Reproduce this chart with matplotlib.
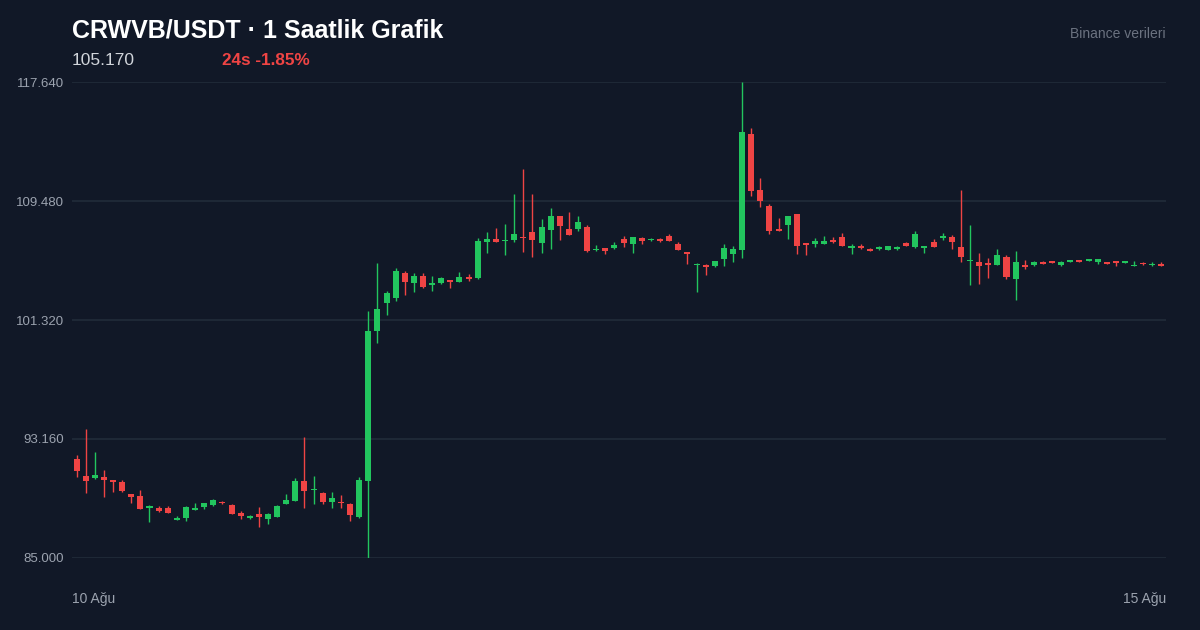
import matplotlib
matplotlib.use('Agg')
import matplotlib.pyplot as plt
import numpy as np

plt.rcParams['font.family'] = ['Liberation Sans', 'DejaVu Sans']

# 1 saatlik mumlar (10 Ağu -> 15 Ağu)
opens = [91.77, 90.62, 90.47, 90.55, 90.35, 90.23, 89.37, 89.25, 88.41, 88.41,
         88.45, 87.63, 87.74, 88.29, 88.48, 88.63, 88.86, 88.66, 88.09, 87.74,
         88.02, 87.67, 87.81, 88.68, 88.93, 90.28, 89.66, 89.48, 88.84, 88.84,
         88.70, 87.83, 90.28, 100.57, 102.51, 102.85, 104.56, 103.86, 104.36, 103.72,
         103.88, 104.06, 103.95, 104.29, 104.20, 106.67, 106.90, 106.74, 106.81, 107.01,
         107.33, 106.60, 107.49, 108.47, 107.56, 107.56, 107.70, 106.10, 106.24, 106.24,
         106.87, 106.51, 106.92, 106.78, 106.90, 107.10, 106.55, 105.96, 105.07, 105.11,
         105.02, 105.48, 105.87, 106.12, 114.07, 110.23, 109.14, 107.54, 107.86, 108.59,
         106.58, 106.55, 106.51, 106.81, 106.99, 106.28, 106.39, 106.21, 106.19, 106.12,
         106.17, 106.60, 106.31, 106.28, 106.67, 106.92, 106.99, 106.35, 105.35, 105.30,
         105.23, 105.07, 105.64, 104.13, 105.09, 105.11, 105.30, 105.35, 105.09, 105.30,
         105.45, 105.35, 105.32, 105.32, 105.37, 105.21, 105.02, 105.25, 105.07, 105.18]
highs = [92.06, 93.83, 92.25, 91.03, 90.35, 90.37, 89.37, 89.64, 88.63, 88.55,
         88.59, 87.88, 88.57, 88.79, 88.75, 89.03, 88.91, 88.70, 88.24, 87.93,
         88.52, 88.09, 88.61, 89.39, 90.49, 93.32, 90.62, 89.53, 89.53, 89.34,
         88.75, 90.53, 101.96, 105.21, 103.33, 104.91, 104.70, 104.54, 104.56, 104.32,
         104.29, 104.06, 104.61, 104.45, 106.96, 107.38, 107.63, 107.88, 109.96, 111.67,
         109.96, 108.23, 108.98, 108.47, 108.73, 108.45, 107.86, 106.46, 106.24, 106.65,
         107.10, 106.99, 107.01, 106.96, 106.94, 107.20, 106.67, 106.00, 105.21, 105.18,
         105.37, 106.55, 106.41, 117.64, 114.49, 111.06, 109.27, 108.31, 108.45, 108.59,
         106.58, 106.92, 107.08, 107.03, 107.31, 106.51, 106.53, 106.28, 106.39, 106.39,
         106.37, 106.67, 107.42, 106.39, 106.85, 107.29, 107.13, 110.23, 107.83, 105.89,
         105.59, 106.19, 105.76, 106.05, 105.43, 105.37, 105.37, 105.37, 105.37, 105.43,
         105.45, 105.52, 105.50, 105.32, 105.37, 105.35, 105.35, 105.30, 105.30, 105.30]
lows = [90.57, 89.48, 90.40, 89.20, 89.55, 89.55, 88.79, 88.34, 87.49, 88.18,
        88.07, 87.61, 87.56, 88.29, 88.36, 88.57, 88.68, 88.02, 87.65, 87.70,
        87.15, 87.31, 87.79, 88.68, 88.91, 88.45, 88.68, 88.70, 88.45, 88.45,
        87.56, 87.76, 85.00, 99.76, 101.66, 102.64, 103.05, 103.26, 103.53, 103.31,
        103.77, 103.51, 103.91, 104.01, 104.11, 105.89, 106.67, 105.76, 106.67, 106.00,
        105.62, 105.89, 106.21, 106.81, 107.13, 107.44, 106.00, 106.07, 105.83, 106.21,
        106.35, 105.94, 106.53, 106.74, 106.65, 106.72, 106.10, 105.14, 103.26, 104.43,
        104.93, 105.02, 105.28, 105.59, 109.84, 109.05, 107.24, 107.44, 106.87, 105.83,
        105.78, 106.35, 106.51, 106.62, 106.41, 105.87, 106.21, 106.03, 106.14, 106.12,
        106.10, 106.41, 106.28, 105.91, 106.35, 106.81, 106.19, 105.28, 103.70, 103.81,
        104.22, 105.07, 104.15, 102.67, 104.82, 105.04, 105.16, 105.23, 105.04, 105.30,
        105.32, 105.35, 105.18, 105.18, 105.02, 105.21, 105.00, 105.11, 105.04, 105.04]
closes = [90.99, 90.28, 90.67, 90.35, 90.21, 89.62, 89.20, 88.34, 88.55, 88.22,
          88.09, 87.76, 88.52, 88.41, 88.75, 88.98, 88.75, 88.04, 87.88, 87.86,
          87.79, 88.04, 88.57, 88.98, 90.28, 89.62, 89.75, 88.82, 89.14, 88.75,
          87.95, 90.33, 100.59, 102.07, 103.15, 104.70, 103.95, 104.36, 103.60, 103.86,
          104.20, 103.95, 104.29, 104.15, 106.72, 106.87, 106.67, 106.83, 107.22, 106.92,
          106.81, 107.70, 108.45, 107.75, 107.13, 108.04, 106.07, 106.21, 106.07, 106.44,
          106.60, 106.99, 106.74, 106.90, 106.72, 106.74, 106.12, 105.85, 105.18, 104.98,
          105.37, 106.24, 106.17, 114.21, 110.19, 109.46, 107.42, 107.44, 108.45, 106.41,
          106.48, 106.72, 106.74, 106.65, 106.41, 106.41, 106.24, 106.07, 106.35, 106.39,
          106.33, 106.41, 107.22, 106.39, 106.35, 107.08, 106.67, 105.62, 105.45, 105.02,
          105.11, 105.76, 104.27, 105.30, 104.98, 105.30, 105.18, 105.23, 105.32, 105.43,
          105.32, 105.52, 105.50, 105.18, 105.23, 105.35, 105.09, 105.14, 105.18, 105.04]

x_labels = ['10 Ağu', '15 Ağu']

BG = '#111827'
GREEN = '#22c55e'
RED = '#ef4444'

fig = plt.figure(figsize=(12, 6.3), dpi=100, facecolor=BG)
ax = fig.add_axes([0.06, 0.1143, 0.9117, 0.7555], facecolor=BG)

o = np.array(opens)
h = np.array(highs)
l = np.array(lows)
c = np.array(closes)
x = np.arange(len(o))
up = c >= o
colors = np.where(up, GREEN, RED)

# fitiller
ax.vlines(x, l, h, colors=colors, linewidth=1.0, zorder=3)
# gövdeler (çok ince gövdeler için minimum yükseklik)
bottom = np.minimum(o, c)
height = np.maximum(np.abs(c - o), 0.1)
ax.bar(x, height, bottom=bottom, width=0.66, color=colors, linewidth=0, zorder=4)

ymin, ymax = l.min(), h.max()
ax.set_ylim(ymin, ymax)
ax.set_xlim(-0.5, len(o) - 0.5)

ticks = np.linspace(ymin, ymax, 5)
ax.set_yticks(ticks)
ax.set_yticklabels(['{:.3f}'.format(t) for t in ticks])
ax.set_xticks([])
ax.tick_params(axis='y', length=0, pad=6, labelsize=9.5, labelcolor='#9ca3af')
ax.grid(axis='y', color='#1f2937', linewidth=1.4, zorder=0)
ax.set_axisbelow(True)
for s in ax.spines.values():
    s.set_visible(False)

# başlıklar
fig.text(0.06, 0.951, 'CRWVB/USDT · 1 Saatlik Grafik', color='white',
         fontsize=18, fontweight='bold', ha='left', va='center')
fig.text(0.06, 0.904, '105.170', color='#d1d5db', fontsize=12.5, ha='left', va='center')
fig.text(0.185, 0.904, '24s -1.85%', color=RED, fontsize=12.3,
         fontweight='bold', ha='left', va='center')
fig.text(0.9717, 0.946, 'Binance verileri', color='#6b7280', fontsize=10,
         ha='right', va='center')

fig.text(0.06, 0.049, x_labels[0], color='#9ca3af', fontsize=10, ha='left', va='center')
fig.text(0.9717, 0.049, x_labels[1], color='#9ca3af', fontsize=10, ha='right', va='center')

fig.savefig('out.png', dpi=100, facecolor=BG)
